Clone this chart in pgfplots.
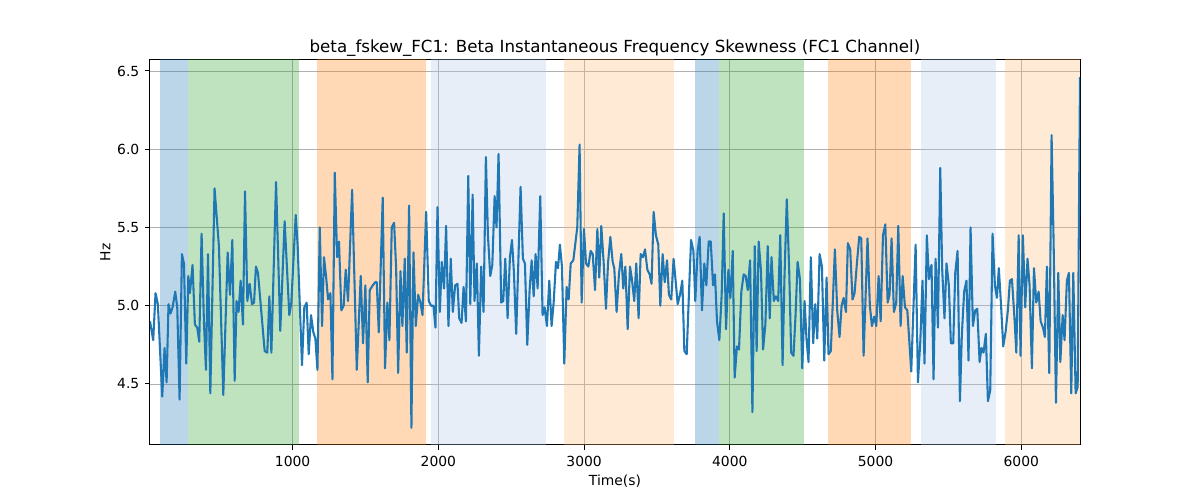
\documentclass[border=0pt]{standalone}
\usepackage{pgfplots}
\pgfplotsset{compat=1.18}
\usepackage{fontspec}
\setmainfont{DejaVu Sans}
\definecolor{tabblue}{RGB}{31,119,180}
\definecolor{tabgreen}{RGB}{44,160,44}
\definecolor{taborange}{RGB}{255,127,14}
\definecolor{ltblue}{RGB}{174,199,232}
\definecolor{ltorange}{RGB}{255,187,120}
\begin{document}
\begin{tikzpicture}
\useasboundingbox (-90pt,-33pt) rectangle (630pt,267pt);
\begin{axis}[
  at={(0,0)}, anchor=south west,
  width=558pt, height=231pt, scale only axis,
  xmin=21, xmax=6403, ymin=4.11, ymax=6.57,
  xtick={1000,2000,3000,4000,5000,6000},
  ytick={4.5,5.0,5.5,6.0,6.5},
  scaled x ticks=false,
  xticklabel style={/pgf/number format/.cd, set thousands separator={}},
  yticklabel style={/pgf/number format/.cd, fixed, fixed zerofill, precision=1},
  /pgf/number format/assume math mode=true,
  tick label style={font=\fontsize{8.33}{10}\selectfont},
  label style={font=\fontsize{8.33}{10}\selectfont},
  title style={font=\fontsize{10}{12}\selectfont, at={(axis description cs:0.5,1)}, anchor=south, inner sep=0pt, yshift=-3.9pt},
  title={beta\_fskew\_FC1: Beta Instantaneous Frequency Skewness (FC1 Channel)},
  xlabel={Time(s)}, ylabel={Hz},
  xlabel style={at={(axis description cs:0.5,0)}, anchor=north, inner sep=0pt, yshift=-17.5pt},
  ylabel style={at={(axis description cs:0,0.5)}, anchor=south, inner sep=0pt, yshift=23.5pt},
  grid=major, grid style={color=black!31, line width=0.5pt},
  axis line style={line width=0.6pt},
  tick align=outside, tick pos=left, major tick length=2.9pt,
  tick style={black, line width=0.6pt},
]
% shaded bands
\addplot[draw=none, fill=tabblue, fill opacity=0.3] coordinates {(89,3) (89,8) (281,8) (281,3)} -- cycle;
\addplot[draw=none, fill=tabgreen, fill opacity=0.3] coordinates {(281,3) (281,8) (1043,8) (1043,3)} -- cycle;
\addplot[draw=none, fill=taborange, fill opacity=0.3] coordinates {(1170,3) (1170,8) (1918,8) (1918,3)} -- cycle;
\addplot[draw=none, fill=ltblue, fill opacity=0.3] coordinates {(1946,3) (1946,8) (2736,8) (2736,3)} -- cycle;
\addplot[draw=none, fill=ltorange, fill opacity=0.3] coordinates {(2860,3) (2860,8) (3614,8) (3614,3)} -- cycle;
\addplot[draw=none, fill=tabblue, fill opacity=0.3] coordinates {(3761,3) (3761,8) (3926,8) (3926,3)} -- cycle;
\addplot[draw=none, fill=tabgreen, fill opacity=0.3] coordinates {(3926,3) (3926,8) (4508,8) (4508,3)} -- cycle;
\addplot[draw=none, fill=taborange, fill opacity=0.3] coordinates {(4671,3) (4671,8) (5245,8) (5245,3)} -- cycle;
\addplot[draw=none, fill=ltblue, fill opacity=0.3] coordinates {(5309,3) (5309,8) (5826,8) (5826,3)} -- cycle;
\addplot[draw=none, fill=ltorange, fill opacity=0.3] coordinates {(5888,3) (5888,8) (6403,8) (6403,3)} -- cycle;
% data
\addplot[color=tabblue, line width=1.25pt, line join=round, mark=none] table {
x y
21 4.90
43 4.78
59 5.08
75 5.01
105 4.42
121 4.73
135 4.51
148 5.01
162 4.95
176 4.99
194 5.09
208 4.99
224 4.40
240 5.33
254 5.27
270 4.63
284 5.19
295 5.08
313 5.26
329 4.88
345 4.86
359 4.77
375 5.46
391 4.90
405 4.59
419 5.33
435 4.44
464 5.75
494 5.38
524 4.43
554 5.34
570 5.07
586 5.42
602 4.52
615 5.03
629 4.96
643 5.16
659 4.88
673 5.73
689 5.03
705 5.14
721 5.01
735 5.02
748 5.25
762 5.21
808 4.71
826 4.70
840 5.06
854 4.70
886 5.79
915 4.84
945 5.54
977 4.94
991 5.02
1021 5.58
1034 5.39
1064 4.62
1080 4.99
1096 5.02
1110 4.69
1126 4.94
1142 4.83
1156 4.79
1170 4.59
1186 5.50
1202 4.87
1215 5.31
1229 5.19
1243 5.04
1259 5.08
1273 4.53
1289 5.85
1305 5.31
1318 5.41
1334 4.97
1350 5.00
1364 5.23
1380 5.03
1408 5.74
1440 4.59
1467 5.19
1483 4.76
1499 5.13
1515 4.51
1529 5.10
1550 5.13
1566 5.15
1577 5.15
1591 4.83
1618 5.69
1634 4.60
1650 5.02
1664 4.78
1680 5.50
1696 5.53
1710 5.24
1724 4.57
1740 5.22
1753 4.87
1769 5.30
1783 4.70
1799 5.64
1815 4.22
1829 5.34
1845 4.87
1861 5.07
1877 5.02
1891 4.94
1916 5.60
1934 5.03
1950 5.00
1966 5.00
1980 4.86
1994 5.63
2010 4.96
2023 5.28
2039 5.11
2053 5.51
2069 4.87
2085 5.30
2099 4.96
2115 5.13
2131 5.14
2143 4.92
2159 4.89
2173 5.12
2189 4.90
2205 5.83
2219 5.01
2235 5.71
2248 5.03
2264 5.27
2278 4.68
2294 5.25
2310 4.96
2326 5.95
2340 5.45
2356 5.19
2370 5.26
2386 5.70
2399 5.50
2413 5.97
2431 5.02
2445 5.03
2459 5.30
2475 4.92
2491 5.31
2505 5.42
2518 5.22
2534 4.82
2564 5.76
2580 5.30
2594 5.27
2610 4.75
2626 5.10
2640 5.29
2654 5.06
2667 5.33
2681 5.11
2699 5.70
2715 4.94
2729 4.99
2745 4.87
2761 5.16
2777 4.87
2791 5.02
2807 5.28
2821 5.24
2834 5.39
2848 5.25
2864 4.63
2880 5.12
2894 5.04
2908 5.27
2926 5.29
2953 5.50
2969 6.03
2983 5.02
2999 5.49
3013 5.27
3029 5.25
3045 5.35
3059 5.33
3075 5.10
3091 5.49
3104 5.18
3118 5.51
3134 5.28
3150 4.98
3164 5.27
3180 5.44
3196 5.28
3207 5.24
3223 4.96
3239 5.20
3255 5.33
3269 5.11
3283 5.25
3299 4.85
3315 5.25
3328 5.17
3344 5.03
3358 5.27
3374 4.92
3388 5.33
3404 5.31
3418 5.36
3434 5.23
3450 5.20
3463 5.14
3477 5.60
3493 5.45
3509 5.39
3523 5.00
3539 5.33
3553 5.15
3569 5.29
3582 5.07
3598 5.04
3614 5.30
3628 5.16
3642 5.01
3658 5.07
3674 5.16
3688 4.71
3704 4.69
3720 5.09
3734 5.42
3750 5.35
3763 5.03
3779 5.35
3793 5.44
3809 4.97
3825 5.27
3839 5.13
3855 5.41
3869 5.41
3885 5.13
3898 5.20
3912 4.90
3928 4.78
3944 5.07
3958 5.59
3974 4.85
3990 5.23
4004 5.05
4020 5.35
4033 4.54
4049 4.74
4063 4.72
4079 5.09
4095 5.20
4109 5.19
4123 5.10
4139 5.29
4155 4.32
4171 5.38
4184 4.71
4198 5.41
4214 5.22
4228 4.72
4244 4.88
4260 5.38
4274 4.92
4286 5.31
4302 5.03
4316 5.06
4332 5.03
4346 5.45
4362 4.62
4375 5.18
4391 5.68
4407 5.24
4421 4.70
4437 4.68
4451 4.94
4465 5.28
4481 5.17
4497 4.60
4513 5.03
4526 4.79
4540 4.64
4556 5.31
4572 4.76
4586 5.01
4600 4.79
4616 5.33
4632 5.25
4648 4.65
4664 5.18
4677 4.69
4693 4.71
4707 5.03
4721 5.36
4737 4.97
4753 4.80
4767 5.00
4781 5.05
4797 4.96
4810 5.40
4826 5.36
4842 5.04
4856 5.08
4872 5.27
4888 5.44
4902 5.43
4918 4.68
4945 5.43
4961 5.00
4975 4.87
4991 4.93
5005 4.87
5021 5.19
5035 4.90
5051 5.45
5067 5.52
5083 5.02
5096 5.07
5110 5.43
5126 4.96
5142 5.02
5156 5.51
5172 4.87
5186 5.19
5202 4.99
5218 4.97
5245 4.58
5275 5.39
5291 4.51
5307 4.77
5322 5.16
5336 4.63
5352 5.45
5366 5.17
5375 5.23
5384 5.26
5398 4.53
5412 5.30
5428 4.86
5444 5.88
5457 5.24
5473 4.92
5487 5.27
5503 5.13
5517 4.76
5533 4.76
5547 5.21
5563 5.35
5579 4.39
5592 4.81
5608 5.09
5624 5.16
5638 4.65
5652 5.50
5668 4.87
5684 4.97
5698 4.98
5714 4.64
5727 4.73
5741 4.70
5757 4.82
5771 4.39
5787 4.46
5803 5.46
5819 5.13
5833 5.05
5846 5.24
5862 4.99
5876 4.74
5892 4.83
5908 4.97
5922 5.16
5936 5.17
5952 4.94
5966 4.70
5982 5.45
5995 4.68
6011 5.45
6027 4.99
6043 5.30
6057 5.13
6073 4.60
6087 5.24
6103 5.02
6119 5.09
6133 4.90
6149 4.86
6162 4.80
6176 5.25
6192 4.57
6208 6.09
6222 5.40
6238 4.38
6254 5.21
6268 4.64
6284 4.94
6297 4.78
6313 5.16
6327 5.21
6343 4.44
6357 5.21
6373 4.44
6387 4.48
6403 6.46
};
\end{axis}
\end{tikzpicture}
\end{document}
